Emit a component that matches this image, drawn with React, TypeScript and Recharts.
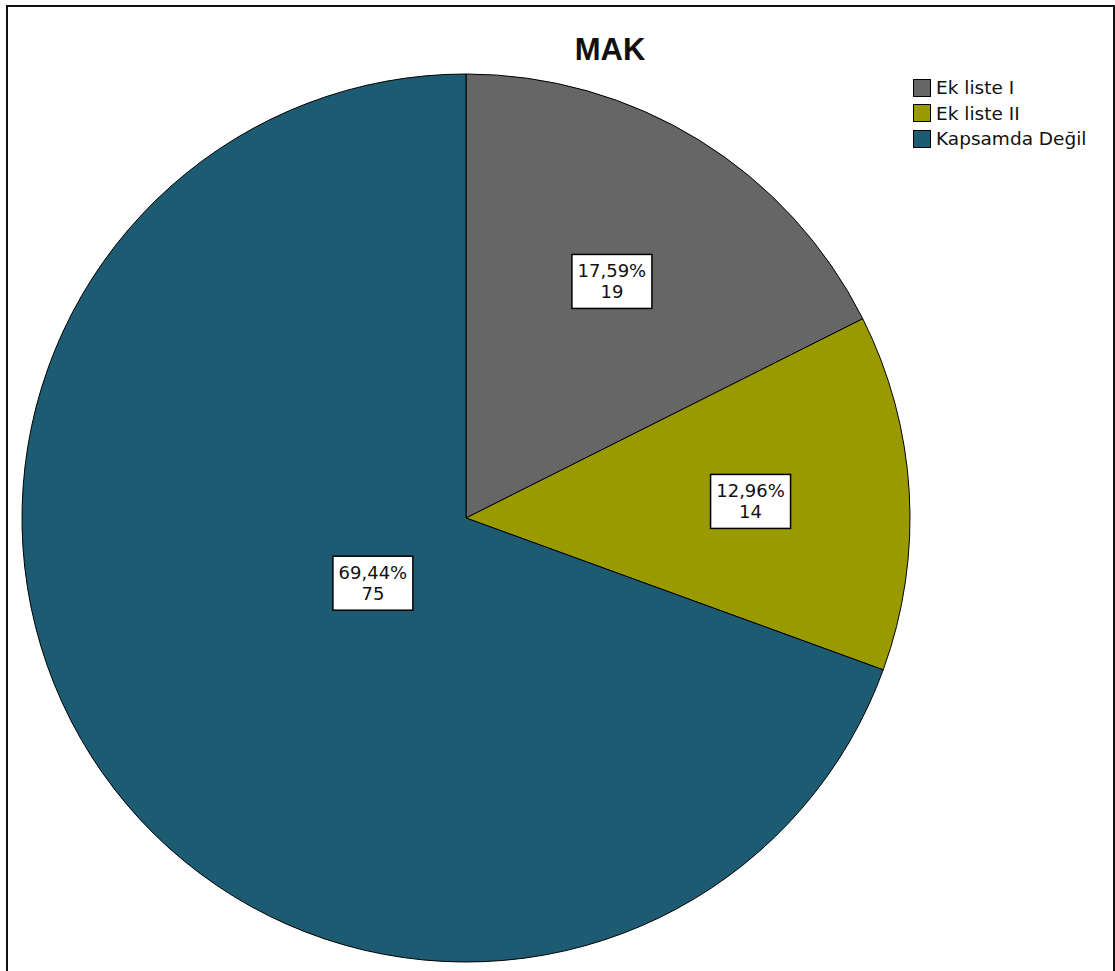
import React from 'react';
import { PieChart, Pie, Cell, Legend } from 'recharts';

const CATEGORIES = ['Ek liste I', 'Ek liste II', 'Kapsamda Değil'];
const COUNTS = [19, 14, 75];
const COLORS = ['#666666', '#999900', '#1d5b72'];
// how far out (fraction of radius) each slice label sits
const LABEL_RADIUS = [0.626, 0.642, 0.256];

const data = CATEGORIES.map((name, i) => ({ name, value: COUNTS[i] }));
const total = COUNTS.reduce((a, b) => a + b, 0);

const RAD = Math.PI / 180;
const FONT = '"DejaVu Sans", Arial, sans-serif';

const renderLabel = (props: any) => {
  const { cx, cy, midAngle, outerRadius, value, index } = props;
  const r = outerRadius * LABEL_RADIUS[index];
  const x = cx + r * Math.cos(-midAngle * RAD);
  const y = cy + r * Math.sin(-midAngle * RAD);
  const pct = ((value / total) * 100).toFixed(2).replace('.', ',') + '%';
  const w = 80;
  const h = 54;
  return (
    <g>
      <rect x={x - w / 2} y={y - h / 2} width={w} height={h} fill="#fff" stroke="#000" strokeWidth={1.5} />
      <text x={x} y={y - 4} textAnchor="middle" fontFamily={FONT} fontSize={18} fill="#111">
        {pct}
      </text>
      <text x={x} y={y + 17} textAnchor="middle" fontFamily={FONT} fontSize={18} fill="#111">
        {value}
      </text>
    </g>
  );
};

const renderLegend = () => (
  <div style={{ fontFamily: FONT, fontSize: 18.5, color: '#111' }}>
    {CATEGORIES.map((name, i) => (
      <div key={name} style={{ display: 'flex', alignItems: 'center', height: 25.5 }}>
        <span
          style={{
            display: 'inline-block',
            width: 16,
            height: 16,
            background: COLORS[i],
            border: '1.5px solid #000',
            marginRight: 5,
          }}
        />
        {name}
      </div>
    ))}
  </div>
);

const App: React.FC = () => {
  return (
    <div
      style={{
        position: 'absolute',
        left: 6,
        top: 5,
        width: 1105,
        height: 990,
        border: '2px solid #111',
        background: '#fff',
        overflow: 'hidden',
      }}
    >
      <div
        style={{
          position: 'absolute',
          left: 0,
          width: 1204,
          top: 25,
          textAlign: 'center',
          fontFamily: 'Arial, "Liberation Sans", sans-serif',
          fontWeight: 'bold',
          fontSize: 31,
          color: '#111',
        }}
      >
        MAK
      </div>
      <PieChart width={1105} height={990}>
        <Pie
          data={data}
          dataKey="value"
          nameKey="name"
          cx={453}
          cy={506}
          outerRadius={444}
          startAngle={90}
          endAngle={-270}
          stroke="#000"
          strokeWidth={1}
          labelLine={false}
          label={renderLabel}
          isAnimationActive={false}
        >
          {data.map((_, index) => (
            <Cell key={`cell-${index}`} fill={COLORS[index]} />
          ))}
        </Pie>
        <Legend
          content={renderLegend}
          layout="vertical"
          wrapperStyle={{ position: 'absolute', left: 905, top: 68, width: 200 }}
        />
      </PieChart>
    </div>
  );
};

export default App;
